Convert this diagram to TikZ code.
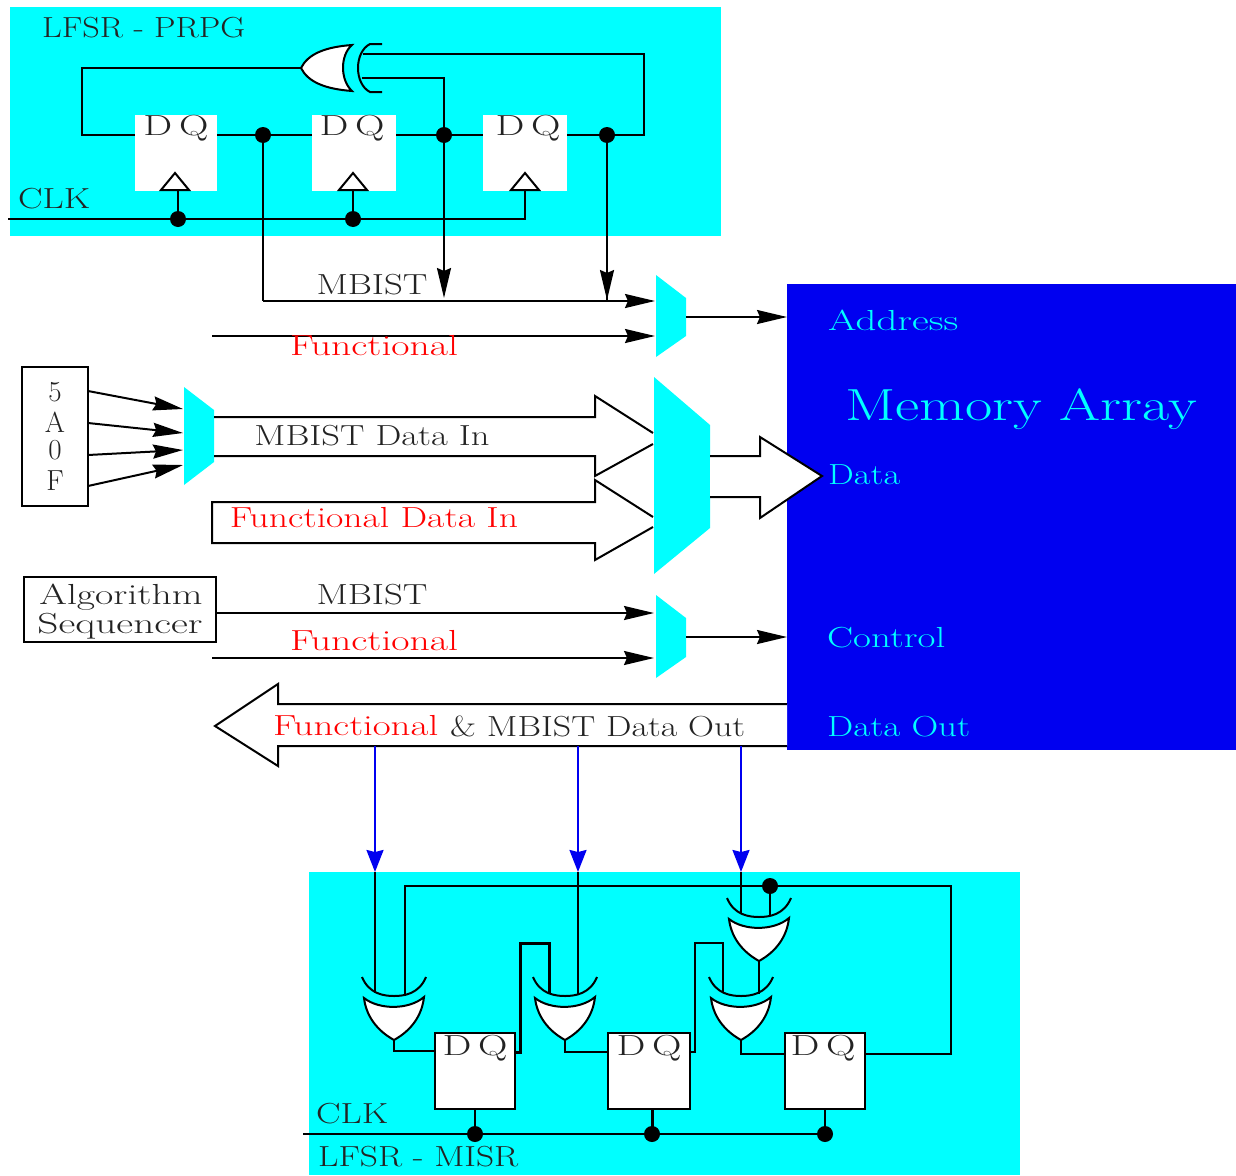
\documentclass[tikz,border=0pt]{standalone}
\usepackage{graphicx}
\usetikzlibrary{arrows.meta}
\definecolor{cy}{RGB}{0,255,255}
\definecolor{bl}{RGB}{0,0,240}
\definecolor{ink}{RGB}{35,35,35}
\newcommand\fw[2]{\resizebox{#1pt}{\height}{#2}}
\tikzset{
  wire/.style={draw=black,line width=2pt},
  arr/.style={wire,-{Stealth[length=30pt,width=14pt,inset=3pt]}},
  bluearr/.style={draw=bl,line width=2pt,-{Stealth[length=22pt,width=17pt,inset=2pt]}},
  panel/.style={fill=cy,draw=none},
  mux/.style={fill=cy,draw=none},
  dot/.style={circle,fill=black,draw=none,minimum size=16pt,inner sep=0pt},
  reg/.style={draw=#1,line width=2pt,fill=white,minimum width=80pt,minimum height=76pt,inner sep=0pt},
  reg/.default=black,
  lbl/.style={inner sep=0pt,text=ink,font=\fontsize{29}{32}\selectfont},
  red lbl/.style={lbl,text=red},
  mem/.style={inner sep=0pt,text=cy,font=\fontsize{29}{32}\selectfont},
  bus/.style={draw=black,line width=2pt,fill=white},
  xorgate/.pic={
    \path[draw=black,line width=2pt,fill=white] (0,0) .. controls (-18,-10) and (-28,-25) .. (-30,-42)
      .. controls (-15,-30) and (15,-30) .. (30,-43) .. controls (28,-25) and (18,-10) .. (0,0) -- cycle;
    \draw[wire] (-32,-63) .. controls (-25,-46) and (-10,-44) .. (0,-44) .. controls (10,-44) and (25,-46) .. (32,-63);
  },
  clktri/.pic={\draw[wire,fill=white] (0,0) -- (14,0) -- (0,-17) -- (-14,0) -- cycle;}
}
\begin{document}
\begin{tikzpicture}[x=1pt,y=-1pt]
\useasboundingbox (0,0) rectangle (1236,1175);
% panels
\fill[panel] (10,7) rectangle (721,236);
\fill[panel] (309,872) rectangle (1020,1175);
\fill[bl] (787,284) rectangle (1236,750);

% ---- PRPG
\node[lbl,anchor=west] (prpgtitle) at (42,28) {\fw{203}{LFSR - PRPG}};
\node[lbl,anchor=west] (clkA) at (18,199) {\fw{72}{CLK}};
\node[fill=white,minimum width=82pt,minimum height=76pt,inner sep=0pt] (fa) at (176,153) {};
\node[fill=white,minimum width=84pt,minimum height=76pt,inner sep=0pt] (fb) at (354,153) {};
\node[fill=white,minimum width=84pt,minimum height=76pt,inner sep=0pt] (fc) at (525,153) {};
\node[lbl] at (176,128) {\fw{65}{D\,Q}};
\node[lbl] at (352,128) {\fw{65}{D\,Q}};
\node[lbl] at (528,128) {\fw{65}{D\,Q}};
\coordinate (ja) at (263,135);
\coordinate (jb) at (444,135);
\coordinate (jc) at (607,135);
\coordinate (ca) at (178,219);
\coordinate (cb) at (353,219);
\coordinate (clkin) at (8,219);
\coordinate (xout) at (301,68);
\coordinate (xin1) at (363,54);
\coordinate (xin2) at (362,78);
\coordinate (fbk) at (644,135);
\coordinate (mbistA) at (444,298);
\coordinate (mbistB) at (607,300);
\coordinate (bot) at (263,301);
\coordinate (muxAin1) at (655,301);
\coordinate (muxAin2) at (655,336);
\coordinate (funcA) at (212,336);
% wires
\draw[wire] (xout) -- (82,68) |- (fa.west |- ja);
\draw[wire] (fa.east |- ja) -- (fb.west |- ja);
\draw[wire] (fb.east |- jb) -- (fc.west |- jb);
\draw[wire] (fc.east |- jc) -- (fbk) |- (xin1);
\draw[wire] (xin2) -| (jb);
\draw[arr] (jb) -- (mbistA);
\draw[arr] (jc) -- (mbistB);
\draw[wire] (607,280) -- (607,301);
\draw[wire] (ja) -- (bot);
\draw[arr] (bot) -- (muxAin1);
\draw[arr] (funcA) -- (muxAin2);
\draw[wire] (clkin) -- (525,219) -- (525,190);
\draw[wire] (ca) -- (178,190);
\draw[wire] (cb) -- (353,190);
\pic at (175,190) {clktri};
\pic at (353,190) {clktri};
\pic at (525,190) {clktri};
\node[dot] at (ja) {};
\node[dot] at (jb) {};
\node[dot] at (jc) {};
\node[dot] at (ca) {};
\node[dot] at (cb) {};
% horizontal XOR
\path[draw=black,line width=2pt,fill=white] (301,68) .. controls (308,54) and (325,47) .. (352,45)
  .. controls (340,55) and (340,80) .. (352,91) .. controls (325,89) and (308,82) .. (301,68) -- cycle;
\draw[wire] (382,44) -- (370,44) .. controls (354,52) and (354,84) .. (370,92) -- (382,92);

\node[lbl] (mbistlabelA) at (372,285) {\fw{111}{MBIST}};
\node[red lbl] (funclabelA) at (374,346) {\fw{168}{Functional}};

% ---- muxes
\fill[mux] (656,275) -- (686,298) -- (686,336) -- (656,357) -- cycle;
\fill[mux] (184,387) -- (214,410) -- (214,462) -- (184,485) -- cycle;
\fill[mux] (654,377) -- (710,425) -- (710,528) -- (654,574) -- cycle;
\fill[mux] (656,595) -- (686,618) -- (686,657) -- (656,678) -- cycle;
\coordinate (muxAout) at (686,317);
\coordinate (memA) at (787,317);
\coordinate (muxDout) at (686,637);
\coordinate (memC) at (787,637);
\draw[arr] (muxAout) -- (memA);
\draw[arr] (muxDout) -- (memC);

% ---- memory labels
\node[mem,anchor=west] (addr) at (828,320) {\fw{130}{Address}};
\node[mem,anchor=west,font=\fontsize{45}{50}\selectfont] (memarr) at (845,409) {\fw{352}{Memory Array}};
\node[mem,anchor=west] (data) at (828,475) {\fw{72}{Data}};
\node[mem,anchor=west] (ctrl) at (827,638) {\fw{118}{Control}};
\node[mem,anchor=west] (dout) at (827,727) {\fw{143}{Data Out}};

% ---- pattern box
\node[draw=black,line width=2pt,fill=white,minimum width=66pt,minimum height=139pt,inner sep=0pt] (pat) at (55,436.5) {};
\node[lbl] at (55,392) {5};
\node[lbl] at (55,422) {A};
\node[lbl] at (55,450) {0};
\node[lbl] at (55,481) {F};
\coordinate (m2a) at (183,409);
\coordinate (m2b) at (183,433);
\coordinate (m2c) at (183,450);
\coordinate (m2d) at (183,465);
\draw[arr] (88,391) -- (m2a);
\draw[arr] (88,423) -- (m2b);
\draw[arr] (88,455) -- (m2c);
\draw[arr] (88,486) -- (m2d);

% ---- buses
\draw[wire] (214,417) -- (595,417) -- (595,396) -- (653,433);
\draw[wire] (653,444) -- (595,476) -- (595,456) -- (214,456);
\node[lbl] (mdi) at (372,436) {\fw{235}{MBIST Data In}};
\draw[wire] (653,517) -- (595,480) -- (595,502) -- (212,502) -- (212,543) -- (595,543) -- (595,560) -- (653,527);
\node[red lbl] (fdi) at (374,518) {\fw{288}{Functional Data In}};
\draw[bus] (710,456) -- (760,456) -- (760,437) -- (822,476) -- (760,518) -- (760,497) -- (710,497);

% ---- sequencer
\node[draw=black,line width=2pt,fill=white,minimum width=192pt,minimum height=65pt,inner sep=0pt,align=center] (seq) at (120,609.5) {};
\node[lbl] at (121,597) {\fw{163}{Algorithm}};
\node[lbl] at (120,626) {\fw{165}{Sequencer}};
\coordinate (seqout) at (216,613);
\coordinate (m4a) at (654,613);
\coordinate (func4) at (212,658);
\coordinate (m4b) at (654,658);
\draw[arr] (seqout) -- (m4a);
\draw[arr] (func4) -- (m4b);
\node[lbl] (mbistlabelB) at (372,595) {\fw{111}{MBIST}};
\node[red lbl] (funclabelB) at (374,641) {\fw{168}{Functional}};

% ---- data out
\draw[bus] (787,704) -- (278,704) -- (278,684) -- (215,726) -- (278,766) -- (278,746) -- (787,746);
\node[red lbl,anchor=west] (fo) at (273,726) {\fw{165}{Functional}};
\node[lbl,anchor=west] (mo) at (450,726) {\fw{295}{\& MBIST Data Out}};

% ---- blue arrows
\coordinate (ba) at (375,746);
\coordinate (bb) at (578,746);
\coordinate (bc) at (741,746);
\coordinate (ta) at (375,872);
\coordinate (tb) at (578,872);
\coordinate (tc) at (741,872);
\draw[bluearr] (ba) -- (ta);
\draw[bluearr] (bb) -- (tb);
\draw[bluearr] (bc) -- (tc);

% ---- MISR
\node[reg,minimum width=80pt] (ga) at (475,1071) {};
\node[reg,minimum width=82pt] (gb) at (649,1071) {};
\node[reg,minimum width=80pt] (gc) at (825,1071) {};
\node[lbl] at (475,1048) {\fw{65}{D\,Q}};
\node[lbl] at (649,1048) {\fw{65}{D\,Q}};
\node[lbl] at (823,1048) {\fw{65}{D\,Q}};
\node[lbl,anchor=west] (clkB) at (316,1114) {\fw{72}{CLK}};
\node[lbl,anchor=west] (misrtitle) at (318,1157) {\fw{200}{LFSR - MISR}};
\coordinate (xa) at (394,1040);
\coordinate (xb) at (565,1040);
\coordinate (xc) at (741,1040);
\coordinate (xd) at (759,961);
\coordinate (jt) at (770,886);
\coordinate (ka) at (475,1134);
\coordinate (kb) at (652,1134);
\coordinate (kc) at (825,1134);
\coordinate (clkinB) at (303,1134);
% wires
\draw[wire] (ta) -- (375,993);
\draw[wire] (tb) -- (578,995);
\draw[wire] (tc) -- (741,914);
\draw[wire] (405,996) -- (405,886) -- (951,886) -- (951,1054) -- (gc.east |- 0,1054);
\draw[wire] (jt) -- (770,916);
\draw[wire] (xd) -- (759,994);
\draw[wire] (xa) -- (394,1051) -- (ga.west |- 0,1051);
\draw[wire] (xb) -- (565,1052) -- (gb.west |- 0,1052);
\draw[wire] (xc) -- (741,1054) -- (gc.west |- 0,1054);
\draw[wire,line width=3pt] (ga.east |- 0,1052) -- (520,1052) -- (520,943) -- (549,943) -- (549,993);
\draw[wire] (gb.east |- 0,1052) -- (695,1052) -- (695,943) -- (723,943) -- (723,993);
\draw[wire] (clkinB) -- (kc);
\draw[wire] (ga.south) -- (ka);
\draw[wire,line width=3pt] (gb.south -| kb) -- (kb);
\draw[wire] (gc.south) -- (kc);
\pic at (394,1040) {xorgate};
\pic at (565,1040) {xorgate};
\pic at (741,1040) {xorgate};
\pic at (759,961) {xorgate};
\node[dot] at (jt) {};
\node[dot] at (ka) {};
\node[dot] at (kb) {};
\node[dot] at (kc) {};
\end{tikzpicture}
\end{document}
